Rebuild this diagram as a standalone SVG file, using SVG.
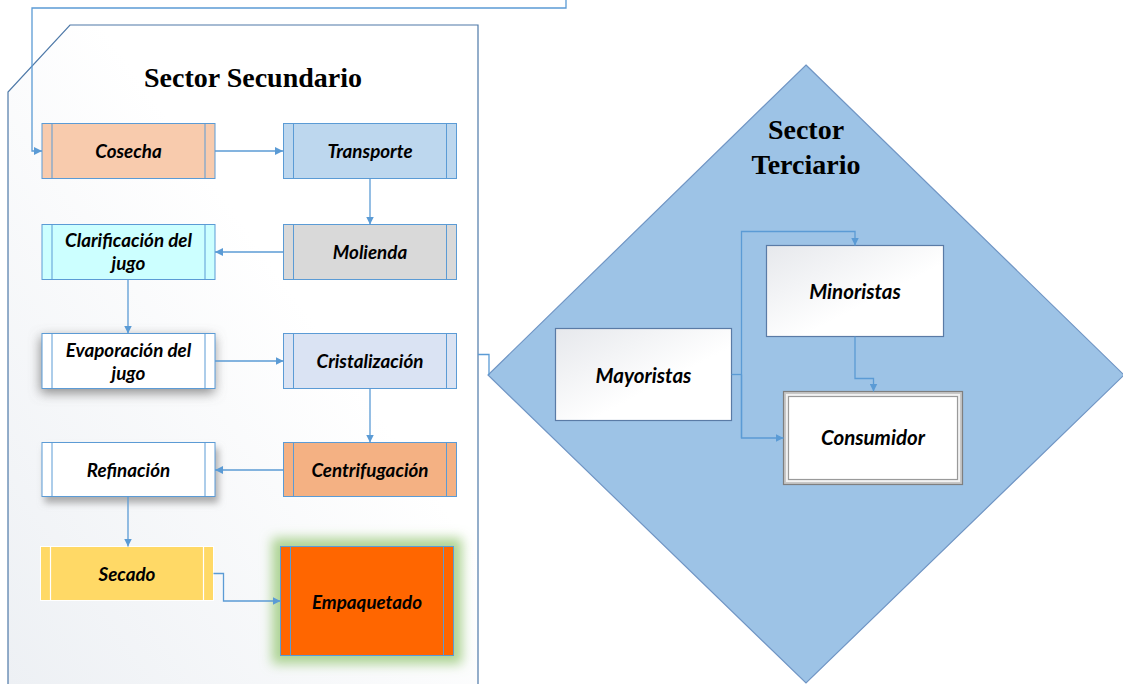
<svg xmlns="http://www.w3.org/2000/svg" width="1123" height="684" viewBox="0 0 1123 684">
  <defs>
    <linearGradient id="panelFill" x1="0" y1="1" x2="1" y2="0">
      <stop offset="0" stop-color="#EDF0F4"/>
      <stop offset="0.6" stop-color="#FFFFFF"/>
    </linearGradient>
    <linearGradient id="cardFill" x1="0" y1="0" x2="1" y2="1">
      <stop offset="0" stop-color="#E6E8EC"/>
      <stop offset="0.6" stop-color="#FFFFFF"/>
    </linearGradient>
    <marker id="arrow" viewBox="0 0 10 10" refX="10" refY="5" markerWidth="8" markerHeight="8" markerUnits="userSpaceOnUse" orient="auto">
      <path d="M0,0 L10,5 L0,10 z" fill="#5B9BD5"/>
    </marker>
    <filter id="softShadow" x="-20%" y="-40%" width="140%" height="190%">
      <feDropShadow dx="-1" dy="4" stdDeviation="6" flood-color="#6F6F6F" flood-opacity="0.8"/>
    </filter>
    <filter id="lowShadow" x="-20%" y="-30%" width="140%" height="170%">
      <feDropShadow dx="3" dy="6" stdDeviation="3.5" flood-color="#8C8C8C" flood-opacity="0.7"/>
    </filter>
    <filter id="greenGlow" x="-30%" y="-30%" width="160%" height="160%">
      <feMorphology in="SourceAlpha" operator="dilate" radius="8" result="grown"/>
      <feGaussianBlur in="grown" stdDeviation="6" result="blur"/>
      <feFlood flood-color="#A9D18E" flood-opacity="0.95"/>
      <feComposite in2="blur" operator="in" result="glow"/>
      <feMerge><feMergeNode in="glow"/><feMergeNode in="SourceGraphic"/></feMerge>
    </filter>
  </defs>
  <style>
    .proc { stroke: #5B9BD5; stroke-width: 1; }
    .bar { stroke: #5B9BD5; stroke-width: 1; }
    .lbl { font-family: Lato, "Open Sans", "Liberation Sans", sans-serif; font-weight: bold; font-style: italic; font-size: 18.8px; fill: #000; text-anchor: middle; }
    .lbl.big { font-size: 20.5px; }
    .title { font-family: "Liberation Serif", serif; font-weight: bold; font-size: 28px; fill: #000; text-anchor: middle; }
    .conn { fill: none; stroke: #5B9BD5; stroke-width: 1.3; }
    .card { fill: url(#cardFill); stroke: #5A7BA6; stroke-width: 1.2; }
  </style>

  <!-- secondary sector panel -->
  <g id="panel-secundario">
    <path d="M70,25 L478,25 L478,684 L8,684 L8,92 Z" fill="url(#panelFill)" stroke="none"/>
    <path d="M8,684 L8,92 L70,25 L478,25 L478,684" fill="none" stroke="#4E79A8" stroke-width="1.2"/>
    <text class="title" x="253" y="87">Sector Secundario</text>
  </g>

  <!-- tertiary sector diamond -->
  <g id="panel-terciario">
    <path d="M806,65 L1124,375 L806,683 L488,375 Z" fill="#9DC3E6" stroke="#7095C4" stroke-width="1.2"/>
    <text class="title" x="806" y="139">Sector</text>
    <text class="title" x="806" y="174">Terciario</text>
  </g>

  <!-- process steps -->
  <g id="cosecha">
    <rect class="proc" x="42" y="123.5" width="173" height="55" fill="#F8CBAD"/>
    <line class="bar" x1="52" y1="123.5" x2="52" y2="178.5"/>
    <line class="bar" x1="205" y1="123.5" x2="205" y2="178.5"/>
    <text class="lbl" x="128.5" y="157.5">Cosecha</text>
  </g>
  <g id="transporte">
    <rect class="proc" x="283.5" y="123.5" width="173" height="55" fill="#BDD7EE"/>
    <line class="bar" x1="293.5" y1="123.5" x2="293.5" y2="178.5"/>
    <line class="bar" x1="446.5" y1="123.5" x2="446.5" y2="178.5"/>
    <text class="lbl" x="370" y="157.5">Transporte</text>
  </g>
  <g id="molienda">
    <rect class="proc" x="283.5" y="224.5" width="173" height="55" fill="#D9D9D9"/>
    <line class="bar" x1="293.5" y1="224.5" x2="293.5" y2="279.5"/>
    <line class="bar" x1="446.5" y1="224.5" x2="446.5" y2="279.5"/>
    <text class="lbl" x="370" y="258.5">Molienda</text>
  </g>
  <g id="clarificacion">
    <rect class="proc" x="42" y="224.5" width="173" height="55" fill="#CCFFFF"/>
    <line class="bar" x1="52" y1="224.5" x2="52" y2="279.5"/>
    <line class="bar" x1="205" y1="224.5" x2="205" y2="279.5"/>
    <text class="lbl" x="128.5" y="246.5">Clarificación del</text>
    <text class="lbl" x="128.5" y="269.5">jugo</text>
  </g>
  <g id="evaporacion">
    <rect class="proc" x="42" y="333.5" width="173" height="55" fill="#FFFFFF" filter="url(#softShadow)"/>
    <line class="bar" x1="52" y1="333.5" x2="52" y2="388.5"/>
    <line class="bar" x1="205" y1="333.5" x2="205" y2="388.5"/>
    <text class="lbl" x="128.5" y="356.5">Evaporación del</text>
    <text class="lbl" x="128.5" y="379.5">jugo</text>
  </g>
  <g id="cristalizacion">
    <rect class="proc" x="283.5" y="333.5" width="173" height="55" fill="#DAE3F3"/>
    <line class="bar" x1="293.5" y1="333.5" x2="293.5" y2="388.5"/>
    <line class="bar" x1="446.5" y1="333.5" x2="446.5" y2="388.5"/>
    <text class="lbl" x="370" y="367.5">Cristalización</text>
  </g>
  <g id="centrifugacion">
    <rect class="proc" x="283.5" y="442.5" width="173" height="54" fill="#F4B183"/>
    <line class="bar" x1="293.5" y1="442.5" x2="293.5" y2="496.5"/>
    <line class="bar" x1="446.5" y1="442.5" x2="446.5" y2="496.5"/>
    <text class="lbl" x="370" y="476.5">Centrifugación</text>
  </g>
  <g id="refinacion">
    <rect class="proc" x="42" y="442.5" width="173" height="54" fill="#FFFFFF" filter="url(#lowShadow)"/>
    <line class="bar" x1="52" y1="442.5" x2="52" y2="496.5"/>
    <line class="bar" x1="205" y1="442.5" x2="205" y2="496.5"/>
    <text class="lbl" x="128.5" y="476.5">Refinación</text>
  </g>
  <g id="secado">
    <rect x="40.5" y="546.5" width="173" height="54" fill="#FFD966" stroke="#FFFFFF" stroke-width="1"/>
    <line x1="50.5" y1="546.5" x2="50.5" y2="600.5" stroke="#FFFFFF" stroke-width="1.2"/>
    <line x1="203.5" y1="546.5" x2="203.5" y2="600.5" stroke="#FFFFFF" stroke-width="1.2"/>
    <text class="lbl" x="127" y="580.5">Secado</text>
  </g>
  <g id="empaquetado">
    <rect class="proc" x="280.5" y="546.5" width="173" height="109" fill="#FF6600" filter="url(#greenGlow)"/>
    <line class="bar" x1="290.5" y1="546.5" x2="290.5" y2="655.5"/>
    <line class="bar" x1="443.5" y1="546.5" x2="443.5" y2="655.5"/>
    <text class="lbl" x="367" y="608.5">Empaquetado</text>
  </g>

  <!-- distribution channel -->
  <g id="mayoristas">
    <rect class="card" x="555.5" y="328.5" width="176" height="92"/>
    <text class="lbl big" x="643.5" y="383">Mayoristas</text>
  </g>
  <g id="minoristas">
    <rect class="card" x="766.5" y="245.5" width="177" height="91"/>
    <text class="lbl big" x="855" y="299">Minoristas</text>
  </g>
  <g id="consumidor">
    <rect x="783.5" y="391.5" width="179" height="93" fill="#C8C8C8" stroke="#7F7F7F" stroke-width="1.2"/>
    <rect x="786" y="394" width="174" height="88" fill="#F2F2F2" stroke="none"/>
    <rect x="788.5" y="396.5" width="169" height="83" fill="#FFFFFF" stroke="#9A9A9A" stroke-width="1.2"/>
    <text class="lbl big" x="873" y="445">Consumidor</text>
  </g>

  <!-- connectors -->
  <g id="connectors">
    <path class="conn" d="M566,0 L566,8 L32,8 L32,151 L42,151" marker-end="url(#arrow)"/>
    <path class="conn" d="M215,151 L283,151" marker-end="url(#arrow)"/>
    <path class="conn" d="M370,178.5 L370,224.5" marker-end="url(#arrow)"/>
    <path class="conn" d="M283.5,252 L215,252" marker-end="url(#arrow)"/>
    <path class="conn" d="M128,279.5 L128,333.5" marker-end="url(#arrow)"/>
    <path class="conn" d="M215,361 L283.5,361" marker-end="url(#arrow)"/>
    <path class="conn" d="M370,388.5 L370,442.5" marker-end="url(#arrow)"/>
    <path class="conn" d="M283.5,470 L215,470" marker-end="url(#arrow)"/>
    <path class="conn" d="M128,496.5 L128,546.5" marker-end="url(#arrow)"/>
    <path class="conn" d="M213.5,573.5 L223.5,573.5 L223.5,601 L280.5,601" marker-end="url(#arrow)"/>
    <path class="conn" d="M478,354.5 L489,354.5 L489,375"/>
    <path class="conn" d="M731.5,374.5 L741.5,374.5"/>
    <path class="conn" d="M741.5,438 L741.5,231.5 L855,231.5 L855,245.5" marker-end="url(#arrow)"/>
    <path class="conn" d="M741.5,374.5 L741.5,438 L783.5,438" marker-end="url(#arrow)"/>
    <path class="conn" d="M855,336.5 L855,378.5 L873.5,378.5 L873.5,391.5" marker-end="url(#arrow)"/>
  </g>
</svg>
